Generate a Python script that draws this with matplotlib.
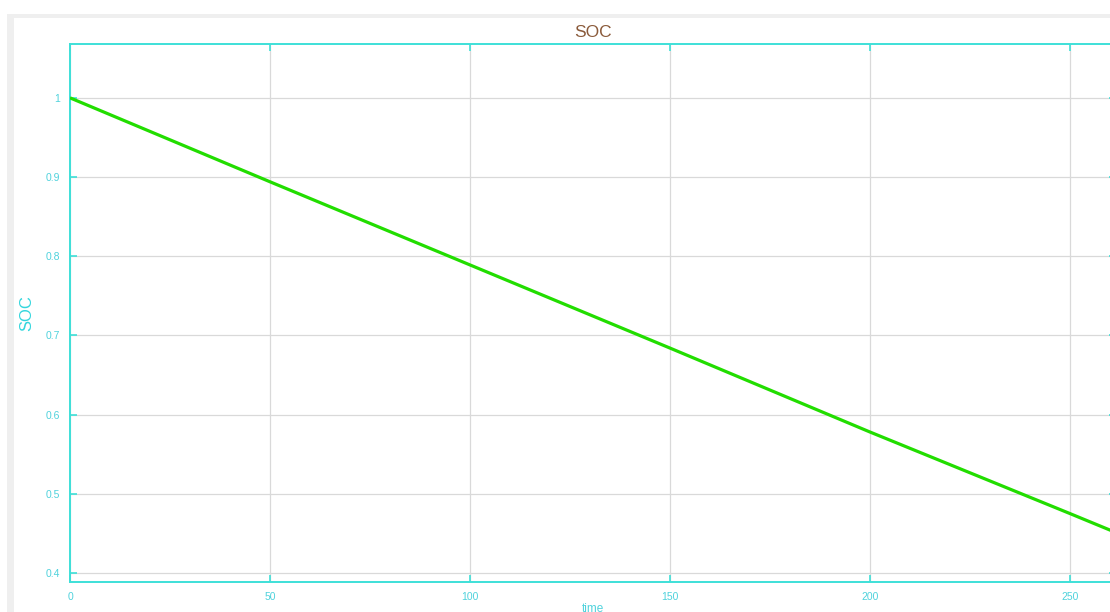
import matplotlib
matplotlib.use("Agg")
import matplotlib.pyplot as plt
from matplotlib.patches import Rectangle

# State of charge over time
time = [0, 50, 100, 150, 200, 250, 262]
soc = [1.0, 0.894, 0.789, 0.684, 0.578, 0.475, 0.450]

x_ticks = [0, 50, 100, 150, 200, 250]
y_ticks = [0.4, 0.5, 0.6, 0.7, 0.8, 0.9, 1.0]
y_tick_labels = ["0.4", "0.5", "0.6", "0.7", "0.8", "0.9", "1"]

W, H = 1110, 612
plt.rcParams["font.family"] = ["Liberation Sans", "DejaVu Sans"]

fig = plt.figure(figsize=(W / 100, H / 100), dpi=100)
fig.patch.set_facecolor("white")

# window frame: thin grey band on the top and left
fig.patches.append(Rectangle((7 / W, 0), 1, 1 - 14 / H, transform=fig.transFigure,
                             facecolor="#efefef", edgecolor="none", zorder=-10))
fig.patches.append(Rectangle((14 / W, 0), 1, 1 - 18 / H, transform=fig.transFigure,
                             facecolor="white", edgecolor="none", zorder=-9))

left, right, top, bottom = 70, 1116, 44, 582
ax = fig.add_axes([left / W, 1 - bottom / H, (right - left) / W, (bottom - top) / H])
ax.set_zorder(5)
ax.set_facecolor("white")

ax.plot(time, soc, color="#22dd00", linewidth=2.3, solid_capstyle="butt", zorder=3)

ax.set_xlim(0, (right - left) / 4.0)
ax.set_ylim(0.3886, 1.068)
ax.set_xticks(x_ticks)
ax.set_xticklabels([str(v) for v in x_ticks])
ax.set_yticks(y_ticks)
ax.set_yticklabels(y_tick_labels)

spine_col = "#3ee0d8"
label_col = "#4fd2dc"
for s in ax.spines.values():
    s.set_color(spine_col)
    s.set_linewidth(1.4)

ax.grid(True, color="#d9d9d9", linewidth=0.9, zorder=0)
ax.tick_params(axis="both", direction="in", length=5, width=1.2, color=spine_col,
               labelcolor=label_col, labelsize=7.5, top=True, right=True)
ax.tick_params(axis="y", pad=7)
ax.tick_params(axis="x", pad=7)

ax.set_title("SOC", color="#8a5a3a", fontsize=12.5, pad=5)
ax.set_ylabel("SOC", color="#33d6dd", fontsize=12, labelpad=8)
ax.set_xlabel("time", color="#4fd2dc", fontsize=8.5, labelpad=1)

fig.savefig("out.png", dpi=100, facecolor=fig.get_facecolor())
